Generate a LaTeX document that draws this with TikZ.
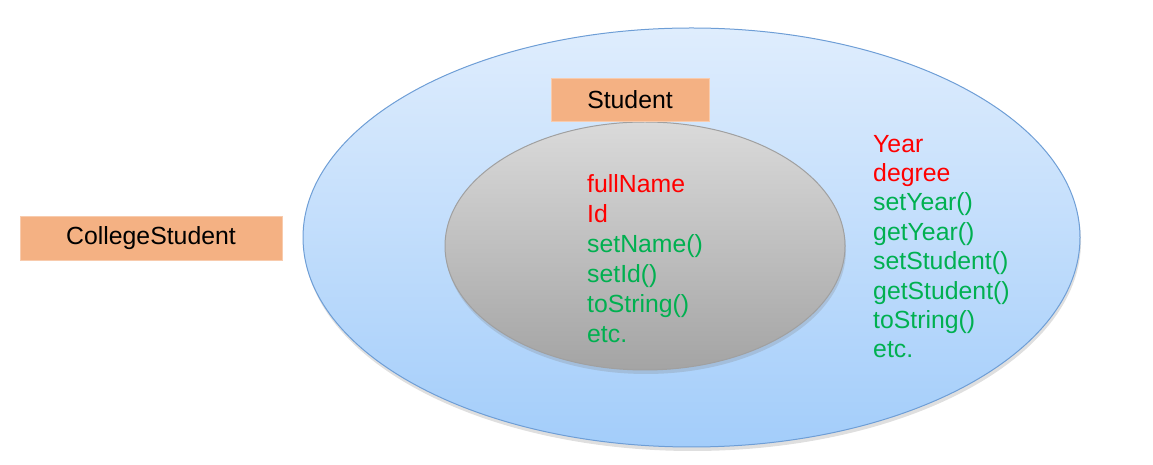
\documentclass[tikz,border=0pt]{standalone}
\usepackage{fontspec}
\setmainfont{Liberation Sans}
\usetikzlibrary{shapes.geometric,shadows}
\definecolor{outerTop}{RGB}{223,237,253}
\definecolor{outerBot}{RGB}{163,205,250}
\definecolor{outerLine}{RGB}{110,158,214}
\definecolor{innerTop}{RGB}{218,218,218}
\definecolor{innerBot}{RGB}{164,164,164}
\definecolor{innerLine}{RGB}{160,160,160}
\definecolor{boxFill}{RGB}{244,177,131}
\definecolor{boxLine}{RGB}{248,203,173}
\definecolor{attrRed}{RGB}{255,0,0}
\definecolor{methGreen}{RGB}{0,176,80}
\tikzset{
  classbox/.style={rectangle, fill=boxFill, draw=boxLine, line width=0.8pt,
    inner sep=0pt, font=\fontsize{24.8}{28}\selectfont, text=black},
  outerell/.style={ellipse, draw=outerLine, line width=1pt, inner sep=0pt,
    top color=outerTop, bottom color=outerBot,
    drop shadow={opacity=0.25, shadow xshift=1pt, shadow yshift=-4pt}},
  innerell/.style={ellipse, draw=innerLine, line width=1pt, inner sep=0pt,
    top color=innerTop, bottom color=innerBot,
    drop shadow={opacity=0.25, shadow xshift=1pt, shadow yshift=-4pt}},
  memberlist/.style={anchor=base west, align=left, inner sep=0pt},
}
\begin{document}
\begin{tikzpicture}[x=1pt,y=1pt]
\useasboundingbox (0,0) rectangle (1153,465);
\node[outerell, minimum width=777pt, minimum height=419pt] (outer) at (691.5,227.5) {};
\node[innerell, minimum width=400pt, minimum height=248pt] (inner) at (645,219) {};
\node[classbox, minimum width=158pt, minimum height=43pt] (student) at (630,365.5) {Student};
\node[classbox, minimum width=262pt, minimum height=44pt] (college) at (151,227) {CollegeStudent};
\node[memberlist, font=\fontsize{24.8}{30}\selectfont] (innerlist) at (587,122) {%
\textcolor{attrRed}{fullName}\\
\textcolor{attrRed}{Id}\\
\textcolor{methGreen}{setName()}\\
\textcolor{methGreen}{setId()}\\
\textcolor{methGreen}{toString()}\\
\textcolor{methGreen}{etc.}};
\node[memberlist, font=\fontsize{24.8}{29.4}\selectfont] (outerlist) at (873,107) {%
\textcolor{attrRed}{Year}\\
\textcolor{attrRed}{degree}\\
\textcolor{methGreen}{setYear()}\\
\textcolor{methGreen}{getYear()}\\
\textcolor{methGreen}{setStudent()}\\
\textcolor{methGreen}{getStudent()}\\
\textcolor{methGreen}{toString()}\\
\textcolor{methGreen}{etc.}};
\end{tikzpicture}
\end{document}
